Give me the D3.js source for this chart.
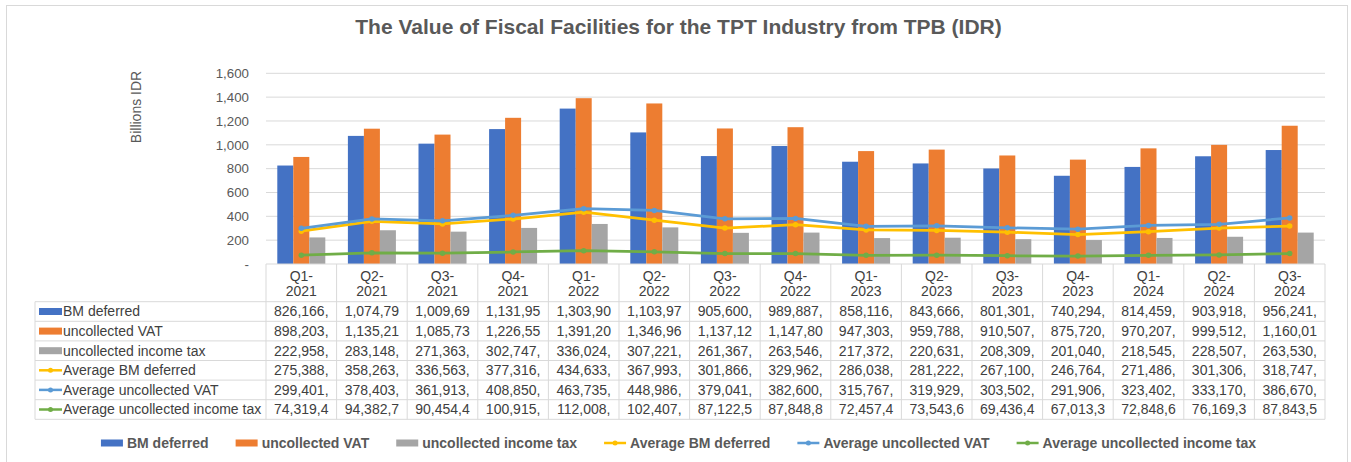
<!DOCTYPE html>
<html><head><meta charset="utf-8">
<script src="https://cdn.jsdelivr.net/npm/d3@7"></script>
<style>
body{margin:0;background:#fff;}
svg{display:block;font-family:"Liberation Sans",Arial,sans-serif;}
</style>
</head><body>
<svg id="c" width="1351" height="462"></svg>
<script>
// ---------- DATA ----------
const categories = ["Q1-2021","Q2-2021","Q3-2021","Q4-2021","Q1-2022","Q2-2022","Q3-2022","Q4-2022","Q1-2023","Q2-2023","Q3-2023","Q4-2023","Q1-2024","Q2-2024","Q3-2024"];
const seriesNames = ["BM deferred","uncollected VAT","uncollected income tax","Average BM deferred","Average uncollected VAT","Average uncollected income tax"];
// values in billions IDR
const bmDeferred = [826.166,1074.79,1009.69,1131.95,1303.90,1103.97,905.600,989.887,858.116,843.666,801.301,740.294,814.459,903.918,956.241];
const uncollectedVAT = [898.203,1135.21,1085.73,1226.55,1391.20,1346.96,1137.12,1147.80,947.303,959.788,910.507,875.720,970.207,999.512,1160.01];
const uncollectedIncomeTax = [222.958,283.148,271.363,302.747,336.024,307.221,261.367,263.546,217.372,220.631,208.309,201.040,218.545,228.507,263.530];
const avgBmDeferred = [275.388,358.263,336.563,377.316,434.633,367.993,301.866,329.962,286.038,281.222,267.100,246.764,271.486,301.306,318.747];
const avgUncollectedVAT = [299.401,378.403,361.913,408.850,463.735,448.986,379.041,382.600,315.767,319.929,303.502,291.906,323.402,333.170,386.670];
const avgUncollectedIncomeTax = [74.3194,94.3827,90.4544,100.915,112.008,102.407,87.1225,87.8488,72.4574,73.5436,69.4364,67.0133,72.8486,76.1693,87.8435];
// data table cell texts (as shown, truncated)
const bmDeferredText = ["826,166,","1,074,79","1,009,69","1,131,95","1,303,90","1,103,97","905,600,","989,887,","858,116,","843,666,","801,301,","740,294,","814,459,","903,918,","956,241,"];
const uncollectedVATText = ["898,203,","1,135,21","1,085,73","1,226,55","1,391,20","1,346,96","1,137,12","1,147,80","947,303,","959,788,","910,507,","875,720,","970,207,","999,512,","1,160,01"];
const uncollectedIncomeTaxText = ["222,958,","283,148,","271,363,","302,747,","336,024,","307,221,","261,367,","263,546,","217,372,","220,631,","208,309,","201,040,","218,545,","228,507,","263,530,"];
const avgBmDeferredText = ["275,388,","358,263,","336,563,","377,316,","434,633,","367,993,","301,866,","329,962,","286,038,","281,222,","267,100,","246,764,","271,486,","301,306,","318,747,"];
const avgUncollectedVATText = ["299,401,","378,403,","361,913,","408,850,","463,735,","448,986,","379,041,","382,600,","315,767,","319,929,","303,502,","291,906,","323,402,","333,170,","386,670,"];
const avgUncollectedIncomeTaxText = ["74,319,4","94,382,7","90,454,4","100,915,","112,008,","102,407,","87,122,5","87,848,8","72,457,4","73,543,6","69,436,4","67,013,3","72,848,6","76,169,3","87,843,5"];
const yTicks = [0,200,400,600,800,1000,1200,1400,1600];
const titleText = "The Value of Fiscal Facilities for the TPT Industry from TPB (IDR)";
const yAxisTitle = "Billions IDR";

// ---------- SETUP ----------
const colors = ["#4472C4","#ED7D31","#A5A5A5","#FFC000","#5B9BD5","#70AD47"];
const barSeries = [bmDeferred, uncollectedVAT, uncollectedIncomeTax];
const lineSeries = [avgBmDeferred, avgUncollectedVAT, avgUncollectedIncomeTax];
const tableTexts = [bmDeferredText, uncollectedVATText, uncollectedIncomeTaxText, avgBmDeferredText, avgUncollectedVATText, avgUncollectedIncomeTaxText];

const svg = d3.select("#c");
const L = 266, R = 1325, T = 73.3, B = 264;
const gridCol = "#D9D9D9", txtCol = "#595959", tblTxt = "#404040";

// outer frame
svg.append("rect").attr("x",6.5).attr("y",5.5).attr("width",1341).attr("height",470)
  .attr("fill","none").attr("stroke","#D9D9D9");

const x0 = d3.scaleBand().domain(categories).range([L,R]).paddingInner(0.32).paddingOuter(0.16);
const x1 = d3.scaleBand().domain([0,1,2]).range([0,x0.bandwidth()]);
const y = d3.scaleLinear().domain([0,1600]).range([B,T]);
const step = x0.step();

// title
svg.append("text").attr("x",678.5).attr("y",34).attr("text-anchor","middle")
  .attr("font-size",21).attr("font-weight","bold").attr("fill",txtCol).text(titleText);

// y-axis title
svg.append("text").attr("transform","translate(136,107) rotate(-90)").attr("text-anchor","middle")
  .attr("dy","0.35em").attr("font-size",14).attr("fill",txtCol).text(yAxisTitle);

// gridlines
svg.append("g").selectAll("line").data(yTicks.filter(d=>d>0)).join("line")
  .attr("x1",L).attr("x2",R).attr("y1",d=>y(d)).attr("y2",d=>y(d))
  .attr("stroke",gridCol).attr("stroke-width",1);

// y axis labels
const yAxis = d3.axisLeft(y).tickValues(yTicks).tickSize(0).tickPadding(0)
  .tickFormat(d => d===0 ? "-" : d3.format(",")(d));
const ga = svg.append("g").attr("transform",`translate(${249},0)`).call(yAxis);
ga.select(".domain").remove();
ga.selectAll("text").attr("font-size",13.3).attr("fill",txtCol)
  .attr("font-family","'Liberation Sans',Arial,sans-serif");

// bars
barSeries.forEach((vals,si)=>{
  svg.append("g").selectAll("rect").data(vals).join("rect")
    .attr("x",(d,i)=>x0(categories[i])+x1(si))
    .attr("width",x1.bandwidth())
    .attr("y",d=>y(d)).attr("height",d=>B-y(d))
    .attr("fill",colors[si]);
});

// lines
const cx = i => x0(categories[i]) + x0.bandwidth()/2;
lineSeries.forEach((vals,li)=>{
  const col = colors[3+li];
  const line = d3.line().x((d,i)=>cx(i)).y(d=>y(d));
  svg.append("path").datum(vals).attr("d",line).attr("fill","none")
    .attr("stroke",col).attr("stroke-width",2.75).attr("stroke-linejoin","round");
  svg.append("g").selectAll("circle").data(vals).join("circle")
    .attr("cx",(d,i)=>cx(i)).attr("cy",d=>y(d)).attr("r",2.75).attr("fill",col);
});

// ---------- DATA TABLE ----------
const tblLeft = 35, headBottom = 301.7, rowH = 19.6;
const nRows = seriesNames.length;
const tblBottom = headBottom + nRows*rowH;
const tg = svg.append("g");
tg.append("line").attr("x1",L).attr("x2",R).attr("y1",B).attr("y2",B).attr("stroke",gridCol);
for(let k=0;k<=nRows;k++){
  const yy = headBottom + k*rowH;
  tg.append("line").attr("x1",tblLeft).attr("x2",R).attr("y1",yy).attr("y2",yy).attr("stroke",gridCol);
}
tg.append("line").attr("x1",tblLeft).attr("x2",tblLeft).attr("y1",headBottom).attr("y2",tblBottom).attr("stroke",gridCol);
for(let i=0;i<=categories.length;i++){
  const xx = L + i*step;
  tg.append("line").attr("x1",xx).attr("x2",xx).attr("y1",B).attr("y2",tblBottom).attr("stroke",gridCol);
}
categories.forEach((c,i)=>{
  const parts = c.split("-");
  const xc = L + i*step + step/2;
  tg.append("text").attr("x",xc).attr("y",276).attr("dy","0.35em").attr("text-anchor","middle")
    .attr("font-size",14).attr("fill",tblTxt).text(parts[0]+"-");
  tg.append("text").attr("x",xc).attr("y",291).attr("dy","0.35em").attr("text-anchor","middle")
    .attr("font-size",14).attr("fill",tblTxt).text(parts[1]);
});
seriesNames.forEach((name,r)=>{
  const yc = headBottom + r*rowH + rowH/2;
  if(r<3){
    tg.append("rect").attr("x",39).attr("y",yc-3.5).attr("width",23).attr("height",7).attr("fill",colors[r]);
  } else {
    tg.append("line").attr("x1",39).attr("x2",62).attr("y1",yc).attr("y2",yc)
      .attr("stroke",colors[r]).attr("stroke-width",2.5);
    tg.append("circle").attr("cx",50.5).attr("cy",yc).attr("r",2.5).attr("fill",colors[r]);
  }
  tg.append("text").attr("x",63).attr("y",yc).attr("dy","0.35em").attr("font-size",14)
    .attr("fill",tblTxt).text(name);
  tableTexts[r].forEach((t,i)=>{
    tg.append("text").attr("x",L + i*step + step/2).attr("y",yc).attr("dy","0.35em")
      .attr("text-anchor","middle").attr("font-size",14).attr("fill",tblTxt).text(t);
  });
});

// ---------- LEGEND ----------
const lg = svg.append("g");
const keyW = 22, keyGap = 4, itemGap = 27, legY = 443;
const items = seriesNames.map((n,i)=>{
  const g = lg.append("g");
  const t = g.append("text").attr("x",keyW+keyGap).attr("y",legY).attr("dy","0.35em")
    .attr("font-size",14).attr("font-weight","bold").attr("fill",txtCol).text(n);
  if(i<3){
    g.append("rect").attr("x",0).attr("y",legY-3.5).attr("width",keyW).attr("height",7).attr("fill",colors[i]);
  } else {
    g.append("line").attr("x1",0).attr("x2",keyW).attr("y1",legY).attr("y2",legY)
      .attr("stroke",colors[i]).attr("stroke-width",2.5);
    g.append("circle").attr("cx",keyW/2).attr("cy",legY).attr("r",2.5).attr("fill",colors[i]);
  }
  return {g, w: keyW + keyGap + t.node().getComputedTextLength()};
});
const total = d3.sum(items,d=>d.w) + itemGap*(items.length-1);
let cur = 678.5 - total/2;
items.forEach(it=>{ it.g.attr("transform",`translate(${cur},0)`); cur += it.w + itemGap; });
</script>
</body></html>
